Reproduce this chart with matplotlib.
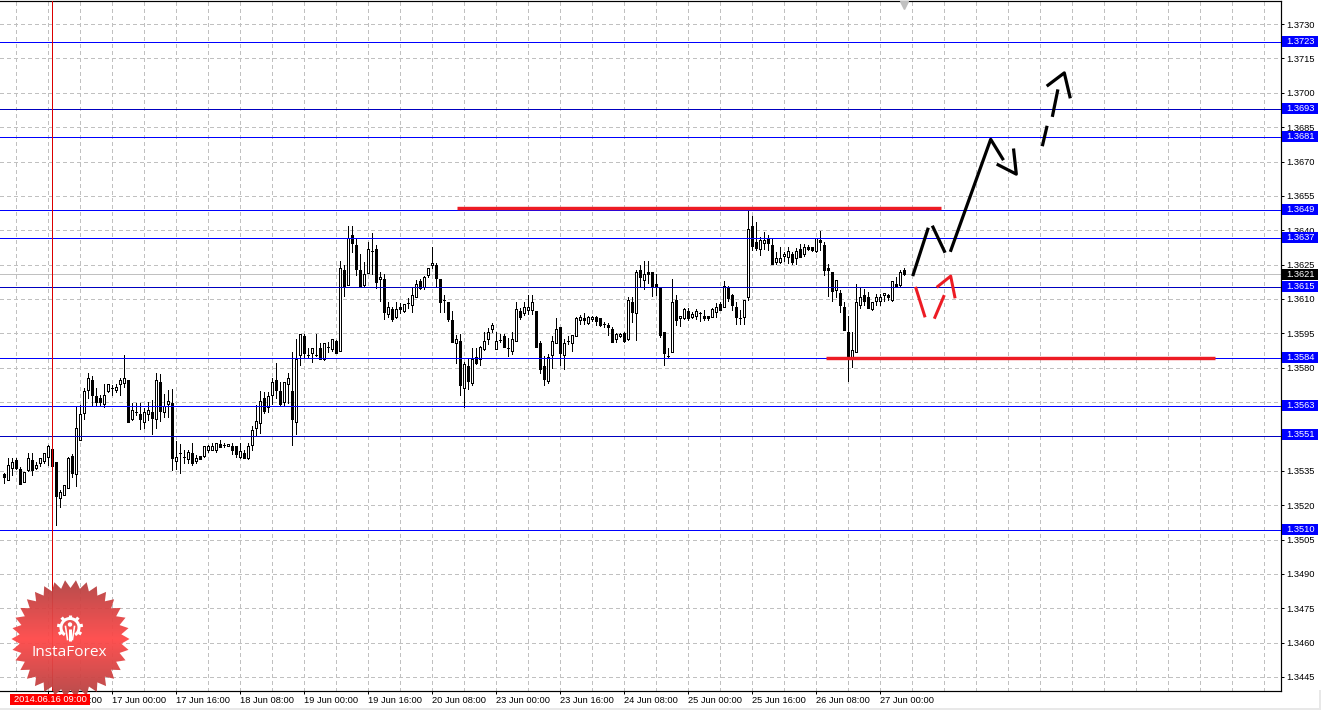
import numpy as np
import matplotlib
matplotlib.use('Agg')
import matplotlib.pyplot as plt
from matplotlib.patches import Polygon, Rectangle, Wedge, Circle

plt.rcParams['font.family'] = ['Liberation Sans', 'DejaVu Sans']

# hourly candles, prices in points (1e-5)
opens = [135336,135312,135363,135397,135356,135302,135353,135397,135363,135385,
         135394,135411,135445,135387,135232,135243,135273,135413,135334,135484,
         135603,135702,135746,135676,135667,135641,135697,135713,135704,135727,
         135734,135746,135574,135605,135598,135564,135596,135606,135574,135736,
         135605,135643,135644,135394,135426,135411,135403,135426,135394,135413,
         135413,135442,135442,135443,135467,135464,135457,135457,135457,135411,
         135426,135404,135464,135535,135557,135666,135627,135683,135745,135699,
         135651,135727,135698,135564,135855,135938,135855,135864,135855,135886,
         135837,135892,135883,135915,135874,136226,136162,136379,136336,136226,
         136161,136215,136308,136317,136186,136186,136036,136055,136023,136063,
         136046,136084,136075,136107,136178,136151,136206,136247,136248,136186,
         136095,136085,136008,135906,135915,135713,135807,135735,135845,135837,
         135883,135924,135967,135883,135922,135938,135885,135871,135915,136046,
         136037,136053,136053,136046,135906,135807,135743,135854,135906,135976,
         135854,135915,135906,135937,136007,136017,135994,136014,136020,136015,
         135991,135985,135967,135924,135937,135953,135924,136085,136037,136226,
         136184,136216,136216,136164,136147,135955,135853,135867,136094,136016,
         136016,136046,136021,136024,136037,136024,136024,136023,136045,136077,
         136064,136150,136117,136064,136016,136023,136107,136417,136347,136317,
         136346,136360,136334,136263,136263,136286,136285,136295,136278,136317,
         136295,136326,136326,136311,136356,136334,136235,136216,136139,136126,
         136067,135955,135841,135867,136074,136116,136107,136055,136091,136091,
         136116,136116,136094,136164,136161,136225]
highs = [135342,135404,135404,135408,135365,135343,135426,135429,135390,135404,
         135426,135462,135448,135387,135266,135288,135411,135423,135633,135637,
         135710,135778,135764,135710,135681,135731,135731,135724,135731,135753,
         135855,135746,135644,135644,135644,135622,135651,135659,135775,135772,
         135685,135702,135705,135481,135467,135440,135443,135473,135419,135413,
         135457,135462,135470,135473,135484,135473,135465,135470,135457,135473,
         135440,135473,135545,135637,135697,135695,135695,135753,135822,135739,
         135739,135775,135868,135925,135947,135947,135886,135886,135947,135908,
         135906,135914,135924,135921,136266,136248,136419,136419,136365,136296,
         136263,136350,136389,136336,136218,136209,136088,136063,136088,136081,
         136077,136103,136151,136183,136186,136200,136234,136328,136258,136189,
         136117,136085,136047,135943,135946,135826,135841,135885,135885,135895,
         135957,135972,135994,135957,135946,135946,135928,135957,136088,136059,
         136088,136117,136117,136046,135918,135851,135860,135938,136015,135976,
         135924,135938,135944,136023,136030,136037,136026,136026,136026,136015,
         136001,135997,135976,135953,135953,135956,136110,136110,136226,136248,
         136266,136266,136216,136208,136147,135955,135885,136187,136117,136024,
         136062,136059,136045,136056,136042,136052,136024,136059,136081,136085,
         136179,136158,136123,136085,136052,136094,136493,136464,136435,136372,
         136394,136379,136365,136304,136328,136304,136328,136307,136321,136339,
         136339,136336,136326,136365,136397,136347,136251,136216,136183,136139,
         136088,136027,135957,136164,136147,136144,136129,136088,136123,136120,
         136125,136120,136179,136198,136227,136234]
lows = [135295,135310,135331,135360,135292,135302,135350,135331,135356,135371,
        135382,135375,135372,135113,135193,135243,135273,135324,135283,135484,
        135574,135666,135637,135633,135633,135627,135695,135681,135695,135681,
        135714,135564,135571,135593,135534,135539,135571,135510,135535,135569,
        135586,135586,135353,135356,135342,135385,135382,135375,135382,135403,
        135411,135433,135442,135433,135452,135452,135457,135423,135411,135408,
        135404,135403,135443,135506,135513,135603,135608,135641,135666,135633,
        135637,135644,135462,135510,135812,135846,135842,135825,135851,135838,
        135834,135870,135874,135866,135874,136113,136162,136306,136205,136151,
        136151,136215,136209,136146,136093,136011,136020,136005,136015,136037,
        136045,136059,136045,136107,136142,136142,136194,136234,136151,136043,
        136045,136005,135914,135822,135681,135627,135706,135724,135816,135812,
        135877,135903,135957,135880,135914,135892,135851,135860,135915,136014,
        136030,136034,136034,135892,135775,135724,135735,135797,135906,135813,
        135796,135903,135874,135937,135991,135991,135991,136005,135988,135982,
        135976,135944,135912,135912,135934,135912,135921,136001,135921,136151,
        136144,136168,136115,136117,135934,135812,135841,135867,135987,135984,
        136013,136008,136016,136013,136004,136007,136007,136021,136023,136052,
        136064,136091,136052,135992,135992,135992,136094,136314,136314,136292,
        136318,136314,136254,136254,136256,136266,136256,136254,136254,136283,
        136286,136314,136310,136307,136314,136205,136115,136091,136110,136045,
        135966,135744,135803,135867,136062,136074,136059,136052,136074,136074,
        136091,136094,136091,136152,136152,136205]
closes = [135324,135374,135387,135363,135292,135343,135404,135353,135374,135404,
          135426,135457,135372,135241,135256,135288,135404,135342,135535,135598,
          135698,135753,135681,135650,135650,135683,135727,135713,135714,135745,
          135753,135564,135614,135605,135574,135605,135614,135582,135745,135609,
          135635,135653,135404,135411,135426,135411,135433,135385,135404,135403,
          135457,135457,135457,135473,135455,135464,135465,135442,135424,135435,
          135408,135457,135526,135566,135653,135609,135676,135736,135702,135641,
          135736,135753,135576,135838,135947,135864,135855,135886,135855,135838,
          135906,135892,135924,135866,136234,136151,136365,136346,136231,136151,
          136209,136317,136308,136176,136194,136045,136063,136013,136055,136055,
          136077,136084,136116,136164,136146,136194,136234,136256,136193,136085,
          136095,136011,135914,135924,135726,135816,135743,135839,135822,135892,
          135915,135954,135985,135915,135922,135892,135885,135924,136055,136020,
          136063,136063,136085,135892,135796,135749,135845,135915,135967,135866,
          135906,135915,135944,136015,136023,136007,136023,136023,136005,135985,
          135991,135976,135914,135946,135946,135915,136094,136043,136216,136194,
          136208,136208,136152,136152,135943,135864,135853,136085,136007,136024,
          136055,136016,136036,136046,136037,136016,136016,136055,136064,136053,
          136155,136106,136075,136023,136016,136094,136404,136333,136324,136356,
          136356,136346,136254,136278,136278,136295,136308,136260,136308,136285,
          136326,136317,136314,136365,136347,136225,136225,136136,136183,136074,
          135966,135850,135876,136085,136107,136091,136059,136085,136107,136107,
          136125,136107,136177,136152,136216,136208]

# horizontal levels: where the line sits and what its label says
level_prices = [1.37220, 1.36928, 1.36807, 1.36487, 1.36365, 1.36152, 1.35841, 1.35631, 1.35502, 1.35090]
level_labels = ['1.3723', '1.3693', '1.3681', '1.3649', '1.3637', '1.3615', '1.3584', '1.3563', '1.3551', '1.3510']
dark_levels = ['1.3693', '1.3615', '1.3551']
last_price = 1.36207
last_label = '1.3621'

price_ticks = [1.3445, 1.3460, 1.3475, 1.3490, 1.3505, 1.3520, 1.3535, 1.3550, 1.3565, 1.3580, 1.3595,
               1.3610, 1.3625, 1.3640, 1.3655, 1.3670, 1.3685, 1.3700, 1.3715, 1.3730]
time_ticks = [-5, 11, 27, 43, 59, 75, 91, 107, 123, 139, 155, 171, 187, 203, 219]
time_labels = ['15 Jun 16:00', '16 Jun 08:00', '17 Jun 00:00', '17 Jun 16:00', '18 Jun 08:00', '19 Jun 00:00',
               '19 Jun 16:00', '20 Jun 08:00', '23 Jun 00:00', '23 Jun 16:00', '24 Jun 08:00', '25 Jun 00:00',
               '25 Jun 16:00', '26 Jun 08:00', '27 Jun 00:00']
grid_bars = list(range(3, 319, 8))
cross_bar = 12
cross_label = '2014.06.16 09:00'

# hand drawn forecast strokes (bar number, price)
black_strokes = [
    ([227.3, 231.2], [1.36200, 1.36411]),
    ([232.2, 235.4], [1.36420, 1.36302]),
    ([236.7, 246.8, 250.0], [1.36306, 1.36797, 1.36706]),
    ([248.3, 253.2, 252.5], [1.36689, 1.36645, 1.36757]),
    ([259.7, 260.9], [1.36767, 1.36856]),
    ([262.2, 263.6], [1.36895, 1.37015]),
    ([260.8, 265.2, 266.7], [1.37029, 1.37087, 1.36976]),
]
red_strokes = [
    ([228.0, 230.4], [1.36153, 1.36020]),
    ([232.7, 235.2], [1.36014, 1.36117]),
    ([233.3, 236.8, 237.9], [1.36151, 1.36200, 1.36103]),
]
red_top = ([113.4, 234.4], [1.36498, 1.36498])
red_bottom = ([205.7, 302.9], [1.35841, 1.35841])

W, H = 1321, 710
PX = 72 / 100  # one pixel in points
LABEL_SIZE = 6.7

fig = plt.figure(figsize=(W / 100, H / 100), dpi=100, facecolor='white')
ax = fig.add_axes([0, (H - 690.5) / H, 1280.5 / W, 690 / H])
ax.set_facecolor('white')

bars = np.arange(len(opens))
o = np.array(opens) / 1e5
h = np.array(highs) / 1e5
l = np.array(lows) / 1e5
c = np.array(closes) / 1e5

ymin, ymax = 1.34391, 1.37403
grid_style = dict(colors='#c0c0c0', linewidth=PX, linestyles=(0, (4, 3)), zorder=1, antialiased=False)
ax.vlines(grid_bars, ymin, ymax, **grid_style)
ax.hlines(price_ticks, -1, 320, **grid_style)

ax.hlines(last_price, -1, 320, colors='#c0c0c0', linewidth=PX, zorder=1.5, antialiased=False)

ax.vlines(bars, l, h, colors='black', linewidth=PX, zorder=3, antialiased=False)
body_colors = ['white' if cl > op else 'black' for op, cl in zip(o, c)]
ax.bar(bars, np.abs(c - o), bottom=np.minimum(o, c), width=0.5, color=body_colors,
       edgecolor='black', linewidth=PX, zorder=4, antialiased=False)

for price, label in zip(level_prices, level_labels):
    line_color = '#0000c0' if label in dark_levels else '#0000ff'
    ax.hlines(price, -1, 320, colors=line_color, linewidth=PX, zorder=5, antialiased=False)

ax.vlines(cross_bar, ymin, ymax, colors='#dc0000', linewidth=PX, zorder=6, antialiased=False)

for xs, ys in black_strokes:
    ax.plot(xs, ys, color='black', linewidth=3.2 * PX, zorder=7, solid_capstyle='butt', solid_joinstyle='round')
for xs, ys in red_strokes:
    ax.plot(xs, ys, color='#ed1c24', linewidth=3.0 * PX, zorder=7, solid_capstyle='butt', solid_joinstyle='round')
ax.plot(*red_top, color='#ed1c24', linewidth=3.4 * PX, zorder=7, solid_capstyle='butt')
ax.plot(*red_bottom, color='#ed1c24', linewidth=3.4 * PX, zorder=7, solid_capstyle='butt')

# small grey shift marker at the top edge
ax.plot([225], [1.37385], marker='v', color='#c0c0c0', markersize=5.5, zorder=7, clip_on=False)

ax.set_xlim(-0.875, 319.25)
ax.set_ylim(ymin, ymax)

ax.yaxis.tick_right()
ax.set_yticks(price_ticks)
ax.set_yticklabels(['%.4f' % p for p in price_ticks], fontsize=LABEL_SIZE)
ax.set_xticks(time_ticks)
ax.set_xticklabels(time_labels, fontsize=LABEL_SIZE, ha='left')
ax.tick_params(axis='y', length=3 * PX, width=PX, pad=3 * PX)
ax.tick_params(axis='x', length=3 * PX, width=PX, pad=2.5 * PX)
ax.spines['left'].set_visible(False)
for side in ['top', 'right', 'bottom']:
    ax.spines[side].set_linewidth(1.2 * PX)

# price labels on the right scale, the boxes sit one pixel above their line
box_h = 11 * 4.365e-5
box_up = 1 * 4.365e-5
box_prices = [p + box_up for p in level_prices]
ax.barh(box_prices, 9, left=319.6, height=box_h, color='#0000ff', zorder=8, clip_on=False)
for price, label in zip(box_prices, level_labels):
    ax.text(320.7, price, label, color='white', fontsize=LABEL_SIZE, va='center', zorder=9, clip_on=False)
ax.barh([last_price], 9, left=319.6, height=box_h, color='black', zorder=8, clip_on=False)
ax.text(320.7, last_price, last_label, color='white', fontsize=LABEL_SIZE, va='center', zorder=9, clip_on=False)

ax.set_xlim(-0.875, 319.25)
ax.set_ylim(ymin, ymax)

# overlay in pixel units for the watermark and window edges
ov = fig.add_axes([0, 0, 1, 1])
ov.patch.set_visible(False)
ov.axis('off')

ov.add_patch(Rectangle((0, 708), W, 2, color='#e8e8e8', linewidth=0))
ov.add_patch(Rectangle((1319, 690), 2, 20, color='#e8e8e8', linewidth=0))

cx, cy = 70.5, 639
n_spikes = 34
ang = np.linspace(0, 2 * np.pi, 2 * n_spikes, endpoint=False)
rad = np.where(np.arange(2 * n_spikes) % 2 == 0, 59, 51)
star = Polygon(np.column_stack([cx + rad * np.cos(ang), cy + rad * np.sin(ang)]),
               closed=True, transform=ov.transData, facecolor='none', edgecolor='none')
ov.add_patch(star)
t = np.abs(np.linspace(-1, 1, 120))[:, None]
center_col = np.array([255, 72, 72]) / 255
edge_col = np.array([178, 66, 66]) / 255
rgb = center_col[None, :] * (1 - t) + edge_col[None, :] * t
rgba = np.dstack([rgb[:, None, :], np.full((120, 1, 1), 0.95)])
img = ov.imshow(rgba, extent=(cx - 60, cx + 60, cy + 60, cy - 60), aspect='auto', zorder=2)
img.set_clip_path(star)

gx, gy = 70, 627.5
ov.add_patch(Wedge((gx, gy), 10.5, 125, 415, width=3, color='white', linewidth=0, zorder=3))
for a in np.radians([150, 190, 230, 270, 310, 350, 30]):
    ov.plot([gx + 9 * np.cos(a), gx + 13 * np.cos(a)], [gy + 9 * np.sin(a), gy + 13 * np.sin(a)],
            color='white', linewidth=3.2 * PX, solid_capstyle='butt', zorder=3)
ov.add_patch(Circle((gx, gy - 3), 2.2, color='white', linewidth=0, zorder=3))
ov.plot([gx, gx], [gy + 1, gy + 13], color='white', linewidth=3 * PX, solid_capstyle='butt', zorder=3)
ov.plot([gx - 4.5, gx - 2.5], [gy - 1, gy + 12], color='white', linewidth=1.6 * PX, zorder=3)
ov.plot([gx + 4.5, gx + 2.5], [gy - 1, gy + 12], color='white', linewidth=1.6 * PX, zorder=3)
ov.text(69.5, 653, 'InstaForex', color='white', fontsize=11.1, family='Open Sans', ha='center', va='center', zorder=3)

ov.add_patch(Rectangle((10, 694), 80, 11, color='#ff0000', linewidth=0, zorder=4))
ov.text(50, 699.5, cross_label, color='white', fontsize=LABEL_SIZE, ha='center', va='center', zorder=5)

ov.set_xlim(0, W)
ov.set_ylim(H, 0)

fig.savefig('out.png', dpi=100)
